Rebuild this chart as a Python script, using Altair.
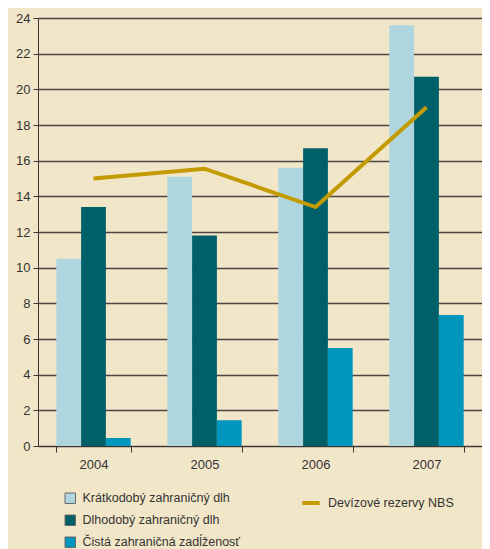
import altair as alt
import pandas as pd

years = ["2004", "2005", "2006", "2007"]
series = ["Krátkodobý zahraničný dlh", "Dlhodobý zahraničný dlh", "Čistá zahraničná zadĺženosť"]
short_term = [10.5, 15.1, 15.6, 23.6]
long_term = [13.4, 11.8, 16.7, 20.7]
net_debt = [0.45, 1.45, 5.5, 7.35]
reserves_label = "Devízové rezervy NBS"
reserves = [15.0, 15.55, 13.4, 19.0]
y_ticks = list(range(0, 25, 2))

bar_colors = ["#AFD6DF", "#00606A", "#0096BD"]
line_color = "#C39A00"
bg = "#F2E6C9"
FONT = "Liberation Sans"

rows = []
for vals, s in zip([short_term, long_term, net_debt], series):
    for y, v in zip(years, vals):
        rows.append({"year": y, "series": s, "value": v})
bar_df = pd.DataFrame(rows)
line_df = pd.DataFrame({"year": years, "value": reserves, "series": [reserves_label] * len(years)})

x_enc = alt.X(
    "year:N",
    scale=alt.Scale(paddingInner=0.33, paddingOuter=0.165),
    axis=alt.Axis(title=None, labelAngle=0, tickBand="extent", tickSize=6,
                  labelPadding=6, domainColor="#3a3530", tickColor="#3a3530",
                  labelFont=FONT, labelFontSize=13, labelColor="#333333", grid=False),
)
y_enc = alt.Y(
    "value:Q",
    scale=alt.Scale(domain=[0, 24], nice=False),
    axis=alt.Axis(title=None, values=y_ticks, tickSize=5, grid=True, gridColor="#4a4540",
                  gridWidth=1.5, domainColor="#3a3530", tickColor="#3a3530",
                  labelFont=FONT, labelFontSize=13, labelColor="#333333", labelPadding=3),
)

bars = alt.Chart(bar_df).mark_bar().encode(
    x=x_enc,
    xOffset=alt.XOffset("series:N", sort=series),
    y=y_enc,
    fill=alt.Fill("series:N", sort=series,
                  scale=alt.Scale(domain=series, range=bar_colors),
                  legend=alt.Legend(title=None, orient="none", legendX=26, legendY=474,
                                    symbolType="square", symbolSize=110,
                                    symbolStrokeColor="#6b6b6b", symbolStrokeWidth=1,
                                    labelFont=FONT, labelFontSize=12.5, labelColor="#333333",
                                    rowPadding=7, labelOffset=6)),
)

line = alt.Chart(line_df).mark_line(strokeWidth=4).encode(
    x=x_enc,
    y=y_enc,
    stroke=alt.Stroke("series:N",
                      scale=alt.Scale(domain=[reserves_label], range=[line_color]),
                      legend=alt.Legend(title=None, orient="none", legendX=262, legendY=474,
                                        symbolType="stroke", symbolStrokeWidth=4, symbolSize=300,
                                        labelFont=FONT, labelFontSize=12.5, labelColor="#333333",
                                        labelOffset=6)),
)

chart = alt.layer(bars, line).resolve_scale(fill="independent", stroke="independent").properties(
    width=444, height=428,
    background=bg,
    autosize=alt.AutoSizeParams(type="none"),
    padding={"left": 30, "top": 10, "right": 0, "bottom": 103},
).configure_view(stroke=None)

chart.save("out.html", embed_options={"renderer": "svg", "actions": False})
